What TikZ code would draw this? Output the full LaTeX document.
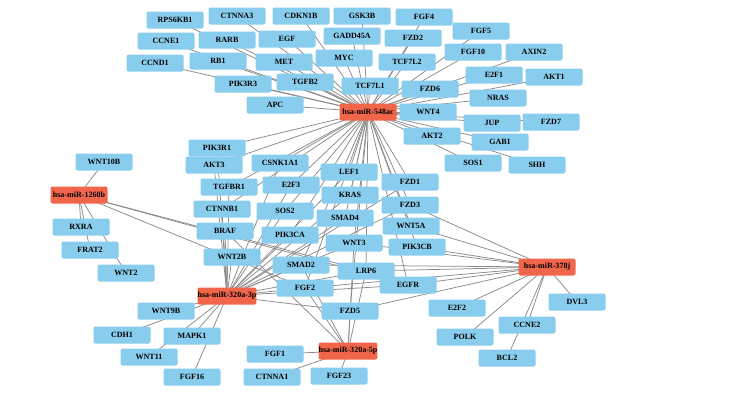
\documentclass[tikz,border=0pt]{standalone}
\usepackage{fontspec}
\setmainfont{Liberation Serif}
\usetikzlibrary{backgrounds}

\definecolor{geneblue}{RGB}{137,205,238}
\definecolor{mirred}{RGB}{241,101,74}
\definecolor{edgegray}{RGB}{138,138,138}

\tikzset{
  gene/.style={rectangle, rounded corners=0.7mm, fill=geneblue,
    minimum width=19.95mm, minimum height=5.95mm, inner sep=0pt,
    font=\bfseries\fontsize{8}{9}\selectfont},
  mirna/.style={gene, fill=mirred},
  link/.style={draw=edgegray, line width=0.75pt}
}

\begin{document}
\begin{tikzpicture}[x=0.35mm, y=-0.35mm]
\useasboundingbox (0,0) rectangle (730,402);

% miRNA
\node[mirna] (m548) at (368,112) {hsa-miR-548ac};
\node[mirna] (m1260) at (79,195) {hsa-miR-1260b};
\node[mirna] (m320a3p) at (227,296) {hsa-miR-320a-3p};
\node[mirna] (m320a5p) at (348,351) {hsa-miR-320a-5p};
\node[mirna] (m378) at (547,267) {hsa-miR-378j};

% geni in alto
\node[gene] (RPS6KB1) at (175,20) {RPS6KB1};
\node[gene] (CTNNA3) at (237,16) {CTNNA3};
\node[gene] (CDKN1B) at (301,16) {CDKN1B};
\node[gene] (GSK3B) at (362,16) {GSK3B};
\node[gene] (FGF4) at (424,17) {FGF4};
\node[gene] (CCNE1) at (166,41) {CCNE1};
\node[gene] (RARB) at (227,40) {RARB};
\node[gene] (EGF) at (287,39) {EGF};
\node[gene] (GADD45A) at (352,36) {GADD45A};
\node[gene] (FZD2) at (413,38) {FZD2};
\node[gene] (FGF5) at (481,31) {FGF5};
\node[gene] (CCND1) at (155,63) {CCND1};
\node[gene] (RB1) at (218,61) {RB1};
\node[gene] (MET) at (284,62) {MET};
\node[gene] (MYC) at (344,58) {MYC};
\node[gene] (TCF7L2) at (407,62) {TCF7L2};
\node[gene] (FGF10) at (473,52) {FGF10};
\node[gene] (AXIN2) at (534,52) {AXIN2};
\node[gene] (PIK3R3) at (243,84) {PIK3R3};
\node[gene] (TGFB2) at (305,82) {TGFB2};
\node[gene] (TCF7L1) at (370,86) {TCF7L1};
\node[gene] (FZD6) at (430,89) {FZD6};
\node[gene] (E2F1) at (494,75) {E2F1};
\node[gene] (AKT1) at (554,77) {AKT1};
\node[gene] (APC) at (275,105) {APC};
\node[gene] (WNT4) at (428,112) {WNT4};
\node[gene] (NRAS) at (498,98) {NRAS};
\node[gene] (JUP) at (492,123) {JUP};
\node[gene] (FZD7) at (551,122) {FZD7};
\node[gene] (AKT2) at (432,136) {AKT2};
\node[gene] (GAB1) at (500,142) {GAB1};
\node[gene] (SOS1) at (473,163) {SOS1};
\node[gene] (SHH) at (537,165) {SHH};

% geni al centro
\node[gene] (PIK3R1) at (217,148) {PIK3R1};
\node[gene] (AKT3) at (214,165) {AKT3};
\node[gene] (CSNK1A1) at (280,163) {CSNK1A1};
\node[gene] (LEF1) at (349,172) {LEF1};
\node[gene] (FZD1) at (410,182) {FZD1};
\node[gene] (TGFBR1) at (229,187) {TGFBR1};
\node[gene] (E2F3) at (291,185) {E2F3};
\node[gene] (KRAS) at (350,195) {KRAS};
\node[gene] (FZD3) at (410,205) {FZD3};
\node[gene] (CTNNB1) at (222,209) {CTNNB1};
\node[gene] (SOS2) at (285,211) {SOS2};
\node[gene] (SMAD4) at (345,218) {SMAD4};
\node[gene] (WNT5A) at (411,226) {WNT5A};
\node[gene] (BRAF) at (225,231) {BRAF};
\node[gene] (PIK3CA) at (290,235) {PIK3CA};
\node[gene] (WNT3) at (354,243) {WNT3};
\node[gene] (PIK3CB) at (417,247) {PIK3CB};
\node[gene] (WNT2B) at (232,257) {WNT2B};
\node[gene] (SMAD2) at (301,265) {SMAD2};
\node[gene] (LRP6) at (366,271) {LRP6};
\node[gene] (FGF2) at (305,288) {FGF2};
\node[gene] (EGFR) at (408,285) {EGFR};
\node[gene] (FZD5) at (350,311) {FZD5};

% geni a sinistra
\node[gene] (WNT10B) at (104,162) {WNT10B};
\node[gene] (RXRA) at (81,227) {RXRA};
\node[gene] (FRAT2) at (90,250) {FRAT2};
\node[gene] (WNT2) at (126,273) {WNT2};

% geni in basso
\node[gene] (WNT9B) at (166,311) {WNT9B};
\node[gene] (CDH1) at (122,335) {CDH1};
\node[gene] (MAPK1) at (192,336) {MAPK1};
\node[gene] (WNT11) at (149,357) {WNT11};
\node[gene] (FGF16) at (192,377) {FGF16};
\node[gene] (FGF1) at (275,354) {FGF1};
\node[gene] (CTNNA1) at (272,377) {CTNNA1};
\node[gene] (FGF23) at (339,376) {FGF23};

% geni a destra
\node[gene] (DVL3) at (577,302) {DVL3};
\node[gene] (E2F2) at (457,308) {E2F2};
\node[gene] (CCNE2) at (527,325) {CCNE2};
\node[gene] (POLK) at (465,337) {POLK};
\node[gene] (BCL2) at (507,358) {BCL2};

% interazioni (dietro ai nodi)
\begin{scope}[on background layer]
  \foreach \g in {RPS6KB1,CTNNA3,CDKN1B,GSK3B,FGF4,CCNE1,RARB,EGF,GADD45A,
      FZD2,FGF5,CCND1,RB1,MET,MYC,TCF7L2,FGF10,AXIN2,PIK3R3,TGFB2,TCF7L1,
      FZD6,E2F1,AKT1,APC,WNT4,NRAS,JUP,FZD7,AKT2,GAB1,SOS1,SHH,PIK3R1,AKT3,
      CSNK1A1,LEF1,FZD1,TGFBR1,E2F3,KRAS,FZD3,SOS2,SMAD4,WNT5A,PIK3CA,WNT3,
      PIK3CB,SMAD2,LRP6,FGF2,EGFR,FZD5,CTNNB1}
    \draw[link] (m548.center) -- (\g.center);
  \foreach \g in {WNT10B,RXRA,FRAT2,WNT2,LRP6,EGFR,FGF2}
    \draw[link] (m1260.center) -- (\g.center);
  \foreach \g in {PIK3R1,AKT3,TGFBR1,CTNNB1,BRAF,WNT2B,CSNK1A1,E2F3,SOS2,
      PIK3CA,LEF1,KRAS,SMAD4,WNT3,SMAD2,FGF2,LRP6,FZD1,FZD3,EGFR,FZD5,
      WNT9B,CDH1,MAPK1,WNT11,FGF16}
    \draw[link] (m320a3p.center) -- (\g.center);
  \foreach \g in {FGF1,CTNNA1,FGF23,FZD5,FGF2,SMAD2,BRAF,LRP6,WNT3}
    \draw[link] (m320a5p.center) -- (\g.center);
  \foreach \g in {WNT5A,FZD3,PIK3CB,WNT3,LRP6,SMAD2,EGFR,FGF2,FZD5,
      E2F2,POLK,CCNE2,BCL2,DVL3}
    \draw[link] (m378.center) -- (\g.center);
\end{scope}

\end{tikzpicture}
\end{document}
